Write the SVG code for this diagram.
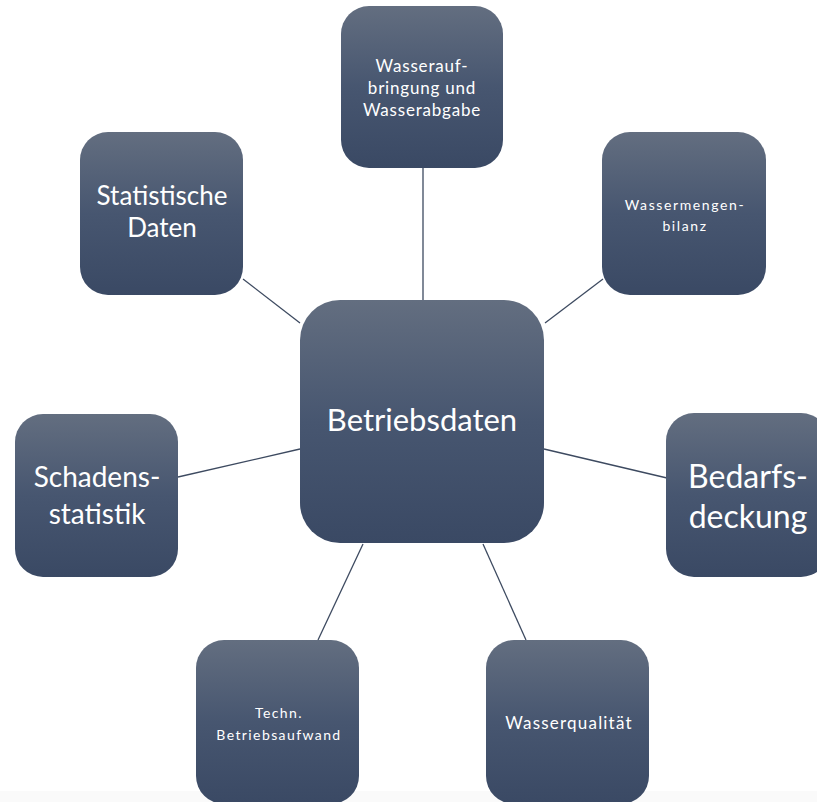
<svg xmlns="http://www.w3.org/2000/svg" width="817" height="802" viewBox="0 0 817 802">
<defs>
<linearGradient id="g" x1="0" y1="0" x2="0" y2="1">
<stop offset="0" stop-color="#636e80"/>
<stop offset="0.5" stop-color="#475670"/>
<stop offset="1" stop-color="#3a4964"/>
</linearGradient>
</defs>
<style>
.n{fill:url(#g)}
.c{stroke:#3d4a60;stroke-width:1.3;fill:none}
text{fill:#ffffff;font-family:Lato,"Open Sans",sans-serif;text-anchor:middle}
</style>
<rect x="0" y="0" width="817" height="802" fill="#ffffff"/>
<rect x="0" y="791" width="817" height="11" fill="#fafafa"/>
<g id="connectors">
<line class="c" x1="423" y1="168" x2="423" y2="300"/>
<line class="c" x1="545" y1="323" x2="603" y2="279"/>
<line class="c" x1="544" y1="449" x2="667" y2="478"/>
<line class="c" x1="483" y1="544" x2="526" y2="640"/>
<line class="c" x1="363" y1="544" x2="318" y2="640"/>
<line class="c" x1="300" y1="449" x2="178" y2="477"/>
<line class="c" x1="243" y1="279" x2="300" y2="323"/>
</g>
<g id="center">
<rect class="n" x="300" y="300" width="244" height="243" rx="40"/>
<text x="422" y="431" font-size="31">Betriebsdaten</text>
</g>
<g id="top">
<rect class="n" x="341" y="6" width="162" height="162" rx="28"/>
<text x="422" y="72" font-size="17" letter-spacing="0.8">Wasserauf-</text>
<text x="422" y="94" font-size="17" letter-spacing="0.8">bringung und</text>
<text x="422" y="116" font-size="17" letter-spacing="0.8">Wasserabgabe</text>
</g>
<g id="topright">
<rect class="n" x="602" y="132" width="164" height="163" rx="28"/>
<text x="685" y="210" font-size="14" letter-spacing="1.6">Wassermengen-</text>
<text x="685" y="231" font-size="14" letter-spacing="1.6">bilanz</text>
</g>
<g id="right">
<rect class="n" x="666" y="413" width="163" height="164" rx="28"/>
<text x="748" y="488" font-size="32">Bedarfs-</text>
<text x="748" y="528" font-size="32">deckung</text>
</g>
<g id="bottomright">
<rect class="n" x="486" y="640" width="163" height="164" rx="28"/>
<text x="569" y="729" font-size="17" letter-spacing="1.2">Wasserqualität</text>
</g>
<g id="bottomleft">
<rect class="n" x="196" y="640" width="163" height="164" rx="28"/>
<text x="279" y="718" font-size="14" letter-spacing="1.4">Techn.</text>
<text x="279" y="740" font-size="14" letter-spacing="1.4">Betriebsaufwand</text>
</g>
<g id="left">
<rect class="n" x="15" y="414" width="163" height="163" rx="28"/>
<text x="97" y="487" font-size="28">Schadens-</text>
<text x="97" y="524" font-size="28">statistik</text>
</g>
<g id="topleft">
<rect class="n" x="80" y="132" width="163" height="163" rx="28"/>
<text x="162" y="205" font-size="26">Statistische</text>
<text x="162" y="237" font-size="26">Daten</text>
</g>
</svg>
